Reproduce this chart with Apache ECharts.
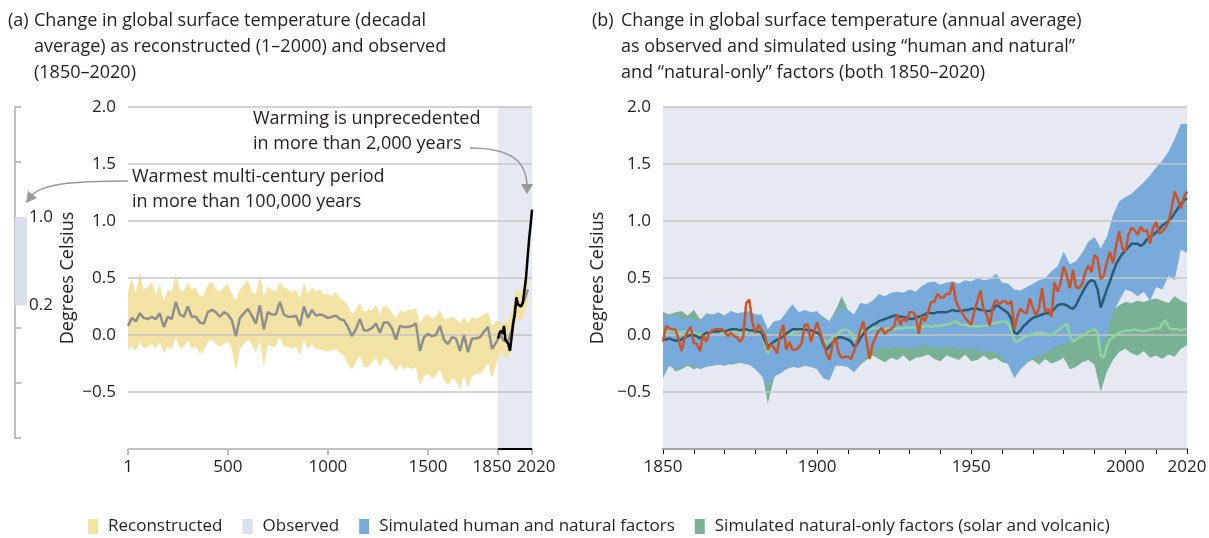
<!DOCTYPE html>
<html>
<head>
<meta charset="utf-8">
<script src="https://cdn.jsdelivr.net/npm/echarts@6/dist/echarts.min.js"></script>
<style>
  html, body { margin: 0; padding: 0; background: #fff; }
  #main { width: 1209px; height: 538px; }
</style>
</head>
<body>
<div id="main"></div>
<script>
// (a) reconstructed decadal temperature, sampled every 20 years from year 1 to 2000
const recYears = [1]
for (let y = 20; y <= 2000; y += 20) recYears.push(y)
const recMean = [
  0.08, 0.15, 0.12, 0.19, 0.15, 0.14, 0.16, 0.14, 0.19, 0.07,
  0.16, 0.14, 0.29, 0.18, 0.16, 0.25, 0.16, 0.16, 0.11, 0.10,
  0.20, 0.22, 0.20, 0.16, 0.20, 0.18, 0.13, -0.01, 0.15, 0.19,
  0.23, 0.17, 0.10, 0.26, 0.05, 0.20, 0.18, 0.18, 0.29, 0.18,
  0.16, 0.16, 0.17, 0.08, 0.25, 0.15, 0.22, 0.17, 0.18, 0.17,
  0.15, 0.16, 0.17, 0.14, 0.13, 0.07, -0.01, 0.05, 0.14, 0.04,
  0.04, 0.06, 0.10, 0.02, 0.11, 0.11, 0.06, -0.04, 0.08, 0.07,
  0.07, 0.08, 0.10, -0.14, -0.02, 0.01, -0.01, 0.00, 0.08, -0.04,
  -0.08, -0.02, -0.03, -0.14, 0.00, -0.15, -0.03, -0.03, -0.02, 0.03,
  0.07, -0.12, -0.07, 0.00, -0.05, -0.06, 0.05, 0.28, 0.25, 0.30,
  0.40
]
const recUpper = [
  0.38, 0.50, 0.36, 0.55, 0.40, 0.42, 0.46, 0.35, 0.44, 0.30,
  0.40, 0.38, 0.54, 0.40, 0.38, 0.46, 0.40, 0.42, 0.34, 0.35,
  0.44, 0.47, 0.40, 0.38, 0.42, 0.45, 0.36, 0.30, 0.40, 0.44,
  0.48, 0.38, 0.36, 0.52, 0.34, 0.42, 0.40, 0.38, 0.46, 0.42,
  0.40, 0.38, 0.40, 0.32, 0.46, 0.36, 0.42, 0.38, 0.40, 0.35,
  0.36, 0.34, 0.38, 0.32, 0.30, 0.26, 0.18, 0.22, 0.28, 0.20,
  0.22, 0.22, 0.26, 0.18, 0.26, 0.24, 0.20, 0.14, 0.22, 0.20,
  0.22, 0.22, 0.24, 0.10, 0.16, 0.18, 0.14, 0.16, 0.22, 0.14,
  0.14, 0.16, 0.14, 0.10, 0.16, 0.10, 0.16, 0.14, 0.16, 0.18,
  0.20, 0.08, 0.12, 0.12, 0.10, 0.12, 0.22, 0.40, 0.38, 0.42,
  0.52
]
const recLower = [
  -0.12, -0.10, -0.14, -0.06, -0.12, -0.10, -0.08, -0.12, -0.06, -0.16,
  -0.10, -0.12, -0.02, -0.12, -0.10, -0.05, -0.12, -0.10, -0.16, -0.14,
  -0.06, -0.04, -0.08, -0.10, -0.08, -0.06, -0.12, -0.32, -0.12, -0.08,
  -0.04, -0.08, -0.16, -0.04, -0.28, -0.08, -0.10, -0.10, -0.02, -0.10,
  -0.10, -0.12, -0.10, -0.18, -0.04, -0.12, -0.08, -0.12, -0.12, -0.14,
  -0.14, -0.14, -0.12, -0.16, -0.18, -0.26, -0.30, -0.24, -0.18, -0.28,
  -0.28, -0.24, -0.20, -0.28, -0.20, -0.22, -0.26, -0.32, -0.26, -0.30,
  -0.28, -0.30, -0.28, -0.44, -0.36, -0.34, -0.38, -0.36, -0.30, -0.40,
  -0.44, -0.38, -0.40, -0.48, -0.36, -0.46, -0.36, -0.34, -0.34, -0.30,
  -0.24, -0.38, -0.26, -0.16, -0.18, -0.20, -0.10, 0.14, 0.12, 0.18,
  0.30
]
// (a) observed, smoothed
const obsDecadalYears = [1850, 1858, 1866, 1874, 1880, 1887, 1894, 1902, 1910, 1918, 1926, 1934,
  1942, 1950, 1958, 1966, 1974, 1982, 1990, 1998, 2006, 2014, 2020]
const obsDecadal = [-0.03, 0.02, 0.04, 0.01, 0.08, -0.04, -0.03, -0.08, -0.14, -0.02, 0.10, 0.18,
  0.33, 0.27, 0.28, 0.25, 0.28, 0.39, 0.50, 0.68, 0.85, 0.98, 1.10]

// (b) annual values 1850-2020
const annualYears = []
for (let y = 1850; y <= 2020; y++) annualYears.push(y)
const obsAnnual = [
  -0.06, 0.08, 0.06, 0.05, 0.05, -0.03, -0.14, -0.03, 0.03, 0.07,
  -0.07, -0.08, -0.14, 0.00, -0.06, 0.02, 0.04, 0.05, 0.05, 0.05,
  0.03, -0.01, 0.02, -0.01, -0.02, -0.06, -0.02, 0.28, 0.31, 0.11,
  0.02, 0.09, 0.04, 0.00, -0.13, -0.08, -0.11, -0.16, 0.00, 0.09,
  -0.13, -0.06, -0.13, -0.13, -0.11, -0.07, 0.09, 0.09, -0.06, 0.03,
  0.11, 0.02, -0.06, -0.16, -0.22, -0.08, -0.02, -0.16, -0.20, -0.19,
  -0.19, -0.21, -0.14, -0.06, 0.04, 0.12, -0.05, -0.21, -0.08, -0.02,
  0.04, 0.06, 0.01, 0.04, 0.05, 0.08, 0.18, 0.09, 0.15, 0.12,
  0.20, 0.20, 0.17, 0.01, 0.17, 0.12, 0.20, 0.29, 0.29, 0.36,
  0.33, 0.33, 0.36, 0.36, 0.46, 0.30, 0.24, 0.20, 0.15, 0.12,
  0.09, 0.21, 0.30, 0.39, 0.22, 0.18, 0.08, 0.25, 0.31, 0.27,
  0.29, 0.30, 0.27, 0.30, 0.05, 0.17, 0.23, 0.20, 0.19, 0.32,
  0.24, 0.17, 0.24, 0.41, 0.20, 0.23, 0.16, 0.46, 0.38, 0.46,
  0.60, 0.52, 0.41, 0.57, 0.42, 0.41, 0.45, 0.55, 0.61, 0.55,
  0.70, 0.67, 0.49, 0.52, 0.64, 0.73, 0.63, 0.78, 0.91, 0.76,
  0.73, 0.88, 0.94, 0.92, 0.88, 0.95, 0.91, 0.92, 0.80, 0.94,
  0.99, 0.89, 0.91, 0.94, 0.99, 1.11, 1.26, 1.19, 1.11, 1.21,
  1.26
]
const simHumanMean = [
  -0.04, -0.04, -0.03, -0.04, -0.05, -0.05, -0.04, -0.02, -0.01, 0.00,
  0.00, -0.01, -0.03, 0.00, 0.02, 0.02, 0.03, 0.03, 0.03, 0.04,
  0.03, 0.04, 0.05, 0.05, 0.05, 0.04, 0.05, 0.05, 0.04, 0.04,
  0.03, 0.03, 0.02, -0.05, -0.10, -0.08, -0.06, -0.04, -0.03, -0.01,
  0.01, 0.03, 0.05, 0.05, 0.05, 0.05, 0.05, 0.04, 0.04, 0.03,
  0.02, 0.00, -0.08, -0.13, -0.10, -0.07, -0.04, -0.02, -0.02, -0.03,
  -0.04, -0.06, -0.10, -0.08, -0.03, 0.01, 0.05, 0.07, 0.09, 0.10,
  0.12, 0.13, 0.14, 0.15, 0.16, 0.17, 0.17, 0.16, 0.16, 0.15,
  0.14, 0.14, 0.15, 0.16, 0.17, 0.18, 0.20, 0.19, 0.19, 0.20,
  0.20, 0.20, 0.20, 0.21, 0.22, 0.21, 0.21, 0.21, 0.22, 0.22,
  0.23, 0.23, 0.23, 0.22, 0.22, 0.21, 0.21, 0.22, 0.26, 0.25,
  0.23, 0.21, 0.19, 0.14, 0.02, 0.01, 0.04, 0.08, 0.10, 0.13,
  0.15, 0.16, 0.17, 0.18, 0.19, 0.19, 0.20, 0.23, 0.26, 0.27,
  0.27, 0.26, 0.24, 0.23, 0.26, 0.32, 0.37, 0.42, 0.46, 0.48,
  0.47, 0.40, 0.24, 0.32, 0.40, 0.47, 0.55, 0.62, 0.67, 0.71,
  0.74, 0.77, 0.80, 0.80, 0.80, 0.78, 0.80, 0.84, 0.86, 0.88,
  0.90, 0.93, 0.96, 0.98, 1.00, 1.03, 1.07, 1.11, 1.15, 1.18,
  1.20
]
const simNaturalMean = [
  0.01, 0.02, 0.03, 0.03, 0.03, 0.02, 0.02, 0.03, 0.03, 0.02,
  0.02, 0.01, 0.00, 0.01, 0.02, 0.03, 0.03, 0.03, 0.03, 0.02,
  0.03, 0.02, 0.02, 0.03, 0.03, 0.02, 0.02, 0.03, 0.03, 0.02,
  0.03, 0.02, 0.01, -0.08, -0.16, -0.10, -0.06, -0.04, -0.02, -0.01,
  0.00, 0.01, 0.02, 0.03, 0.03, 0.04, 0.04, 0.04, 0.03, 0.03,
  0.03, 0.02, -0.03, -0.07, -0.05, -0.02, 0.00, 0.02, 0.04, 0.05,
  0.04, 0.02, -0.04, -0.02, 0.02, 0.04, 0.05, 0.05, 0.06, 0.06,
  0.06, 0.05, 0.05, 0.06, 0.05, 0.05, 0.06, 0.06, 0.06, 0.07,
  0.06, 0.07, 0.06, 0.07, 0.07, 0.08, 0.08, 0.07, 0.08, 0.08,
  0.08, 0.09, 0.09, 0.10, 0.11, 0.12, 0.10, 0.09, 0.09, 0.08,
  0.08, 0.08, 0.07, 0.08, 0.08, 0.08, 0.09, 0.10, 0.11, 0.11,
  0.12, 0.12, 0.10, 0.04, -0.05, -0.06, -0.04, -0.02, -0.01, 0.00,
  0.01, 0.02, 0.02, 0.02, 0.01, 0.00, 0.00, 0.02, 0.04, 0.06,
  0.08, 0.10, 0.00, -0.06, -0.04, -0.02, -0.01, 0.01, 0.03, 0.04,
  0.05, 0.02, -0.18, -0.20, -0.10, -0.04, -0.02, 0.00, 0.02, 0.03,
  0.04, 0.04, 0.04, 0.05, 0.04, 0.04, 0.03, 0.04, 0.05, 0.05,
  0.06, 0.05, 0.10, 0.13, 0.07, 0.05, 0.05, 0.05, 0.04, 0.05,
  0.05
]

// (b) model ranges, every 2 years 1850-2020
const bandYears = []
for (let y = 1850; y <= 2020; y += 2) bandYears.push(y)
const humanUpper = [
  0.18, 0.16, 0.18, 0.14, 0.15, 0.14, 0.12, 0.19, 0.18, 0.20,
  0.17, 0.21, 0.19, 0.20, 0.21, 0.18, 0.18, 0.05, 0.12, 0.13,
  0.20, 0.27, 0.20, 0.22, 0.20, 0.21, 0.14, 0.12, 0.20, 0.24,
  0.22, 0.18, 0.28, 0.27, 0.30, 0.36, 0.34, 0.37, 0.38, 0.37,
  0.40, 0.38, 0.43, 0.46, 0.47, 0.44, 0.46, 0.47, 0.45, 0.48,
  0.47, 0.50, 0.48, 0.49, 0.54, 0.46, 0.45, 0.40, 0.39, 0.42,
  0.45, 0.48, 0.50, 0.56, 0.60, 0.73, 0.62, 0.65, 0.72, 0.82,
  0.86, 0.76, 0.86, 1.05, 1.17, 1.21, 1.24, 1.29, 1.34, 1.40,
  1.47, 1.53, 1.61, 1.72, 1.85, 1.85
]
const humanLower = [
  -0.38, -0.27, -0.30, -0.28, -0.26, -0.27, -0.30, -0.28, -0.27, -0.26,
  -0.27, -0.25, -0.24, -0.25, -0.26, -0.30, -0.36, -0.46, -0.36, -0.34,
  -0.30, -0.28, -0.29, -0.27, -0.28, -0.30, -0.38, -0.40, -0.27, -0.27,
  -0.28, -0.33, -0.26, -0.18, -0.14, -0.12, -0.11, -0.12, -0.10, -0.11,
  -0.12, -0.10, -0.09, -0.10, -0.11, -0.12, -0.10, -0.11, -0.12, -0.13,
  -0.12, -0.13, -0.15, -0.14, -0.16, -0.20, -0.26, -0.38, -0.30, -0.25,
  -0.20, -0.18, -0.16, -0.13, -0.10, -0.08, -0.06, -0.02, 0.02, 0.05,
  0.04, -0.10, 0.02, 0.20, 0.30, 0.40, 0.38, 0.34, 0.38, 0.30,
  0.42, 0.40, 0.52, 0.48, 0.75, 0.72
]
const naturalUpper = [
  0.20, 0.18, 0.20, 0.21, 0.17, 0.22, 0.14, 0.16, 0.17, 0.18,
  0.16, 0.17, 0.16, 0.17, 0.16, 0.15, 0.14, 0.02, 0.10, 0.12,
  0.16, 0.18, 0.17, 0.18, 0.18, 0.20, 0.16, 0.12, 0.22, 0.34,
  0.22, 0.16, 0.20, 0.24, 0.22, 0.24, 0.25, 0.26, 0.25, 0.26,
  0.27, 0.26, 0.28, 0.27, 0.28, 0.27, 0.28, 0.30, 0.28, 0.27,
  0.28, 0.29, 0.28, 0.27, 0.29, 0.28, 0.26, 0.18, 0.20, 0.22,
  0.24, 0.23, 0.24, 0.22, 0.25, 0.27, 0.18, 0.22, 0.24, 0.26,
  0.26, 0.08, 0.16, 0.22, 0.26, 0.29, 0.28, 0.30, 0.29, 0.31,
  0.32, 0.30, 0.28, 0.34, 0.30, 0.28
]
const naturalLower = [
  -0.28, -0.25, -0.32, -0.30, -0.27, -0.30, -0.28, -0.26, -0.27, -0.25,
  -0.24, -0.26, -0.25, -0.24, -0.26, -0.27, -0.30, -0.60, -0.38, -0.30,
  -0.28, -0.26, -0.27, -0.25, -0.26, -0.27, -0.34, -0.36, -0.27, -0.26,
  -0.27, -0.30, -0.26, -0.22, -0.18, -0.21, -0.24, -0.20, -0.22, -0.18,
  -0.23, -0.20, -0.19, -0.17, -0.21, -0.23, -0.18, -0.20, -0.22, -0.17,
  -0.23, -0.22, -0.18, -0.22, -0.20, -0.24, -0.25, -0.30, -0.27, -0.24,
  -0.22, -0.26, -0.21, -0.25, -0.23, -0.20, -0.30, -0.28, -0.24, -0.22,
  -0.26, -0.50, -0.32, -0.22, -0.15, -0.12, -0.16, -0.18, -0.14, -0.20,
  -0.18, -0.21, -0.17, -0.19, -0.12, -0.09
]

// left scale: range of the warmest multi-century period
const paleoRange = [0.2, 1.0]

const tickA = [1, 500, 1000, 1500, 1850, 2020]
const tickB = [1850, 1900, 1950, 2000, 2020]
const tickBMinor = []
for (let y = 1850; y <= 2020; y += 10) tickBMinor.push(y)

const C = {
  text: '#231f20',
  grid: '#c6c6c6',
  recon: '#f2e2a3',
  reconLine: '#8e8e8e',
  observedBg: '#e6e9f2',
  human: '#78abdc',
  natural: '#78b194',
  humanLine: '#2b5a72',
  naturalLine: '#8ed49c',
  obs: '#c9552a'
}
const FONT = 'Open Sans'

function pairs(xs, ys) { return xs.map((x, i) => [x, ys[i]]) }
function fmt(v) {
  if (v === -1) return ''
  return (v < 0 ? '\u2212' : '') + Math.abs(v).toFixed(1)
}

// shaded range between lower and upper, drawn as one polygon through the axes
function band(name, xs, lo, hi, color, xi, yi, z) {
  return {
    name: name, type: 'custom', xAxisIndex: xi, yAxisIndex: yi, z: z, silent: true,
    itemStyle: { color: color },
    data: xs.map((x, i) => [x, lo[i], hi[i]]),
    encode: { x: 0, y: [1, 2] },
    renderItem: function (params, api) {
      if (params.dataIndex !== 0) return null
      let top = xs.map((x, i) => api.coord([x, hi[i]]))
      let bot = xs.map((x, i) => api.coord([x, lo[i]])).reverse()
      return { type: 'polygon', shape: { points: top.concat(bot) }, style: { fill: color } }
    }
  }
}

let chart = echarts.init(document.getElementById('main'))

const yBase = {
  type: 'value', min: -1, max: 2, interval: 0.5, z: 3,
  axisLine: { show: false, onZero: false }, axisTick: { show: false },
  axisLabel: { formatter: fmt, fontSize: 17, color: C.text, margin: 12, fontFamily: FONT },
  splitLine: { lineStyle: { color: C.grid, width: 1.5 } },
  name: 'Degrees Celsius', nameLocation: 'middle',
  nameTextStyle: { fontSize: 18, color: C.text, fontFamily: FONT }
}
const titleStyle = { fontSize: 18, fontWeight: 'normal', color: C.text, lineHeight: 26, fontFamily: FONT }

const option = {
  animation: false,
  textStyle: { fontFamily: FONT },
  title: [
    { text: '(a)', left: 8, top: 8, padding: 0, textStyle: titleStyle },
    { text: 'Change in global surface temperature (decadal\naverage) as reconstructed (1\u20132000) and observed\n(1850\u20132020)',
      left: 34, top: 8, padding: 0, textStyle: titleStyle },
    { text: '(b)', left: 592, top: 8, padding: 0, textStyle: titleStyle },
    { text: 'Change in global surface temperature (annual average)\nas observed and simulated using \u201chuman and natural\u201d\nand \u201cnatural-only\u201d factors (both 1850\u20132020)',
      left: 621, top: 8, padding: 0, textStyle: titleStyle }
  ],
  legend: {
    left: 88, top: 518, itemWidth: 10, itemHeight: 15, itemGap: 20, icon: 'rect', padding: 0,
    textStyle: { fontSize: 17, color: C.text, padding: [0, 0, 0, 5] },
    selectedMode: false,
    data: [
      { name: 'Reconstructed', itemStyle: { color: C.recon } },
      { name: 'Observed', itemStyle: { color: '#d9dfec' } },
      { name: 'Simulated human and natural factors', itemStyle: { color: C.human } },
      { name: 'Simulated natural-only factors (solar and volcanic)', itemStyle: { color: C.natural } }
    ]
  },
  grid: [
    { left: 128, width: 404, top: 107, height: 342, outerBoundsMode: 'none' },
    { left: 663, width: 524, top: 107, height: 342, show: true, backgroundColor: C.observedBg, borderWidth: 0, outerBoundsMode: 'none' },
    { left: 15, width: 12, top: 107, height: 331, outerBoundsMode: 'none' }
  ],
  xAxis: [
    {
      type: 'value', gridIndex: 0, min: 1, max: 2020, splitLine: { show: false },
      axisLine: { onZero: false, lineStyle: { color: '#a8a8a8', width: 1.5 } },
      axisTick: { customValues: tickA, length: 6, lineStyle: { color: '#a8a8a8', width: 1.5 } },
      axisLabel: {
        customValues: tickA, fontSize: 17, color: C.text, margin: 10, hideOverlap: false,
        formatter: v => v === 1850 ? '{l|1850}' : v === 2020 ? '{r|2020}' : String(v),
        rich: {
          l: { fontSize: 17, color: C.text, padding: [0, 12, 0, 0] },
          r: { fontSize: 17, color: C.text, padding: [0, 0, 0, 8] }
        }
      }
    },
    {
      type: 'value', gridIndex: 1, min: 1850, max: 2020, splitLine: { show: false },
      axisLine: { onZero: false, lineStyle: { color: '#111', width: 1.5 } },
      axisTick: { customValues: tickBMinor, length: 5, lineStyle: { color: '#111', width: 1 } },
      axisLabel: { customValues: tickB, formatter: v => String(v), fontSize: 17, color: C.text, margin: 10 }
    },
    { type: 'category', gridIndex: 2, data: ['range'], show: false }
  ],
  yAxis: [
    Object.assign({}, yBase, { gridIndex: 0, nameGap: 51 }),
    Object.assign({}, yBase, { gridIndex: 1, nameGap: 56 }),
    {
      type: 'value', gridIndex: 2, min: -1, max: 2, interval: 0.5, position: 'left',
      axisLine: { show: true, onZero: false, lineStyle: { color: '#ababab', width: 1.5 } },
      axisTick: { show: true, inside: true, length: 6, lineStyle: { color: '#ababab', width: 1.5 } },
      axisLabel: { show: false }, splitLine: { show: false }
    },
    {
      type: 'value', gridIndex: 2, min: -1, max: 2, position: 'right',
      axisLine: { show: false, onZero: false }, axisTick: { show: false }, splitLine: { show: false },
      axisLabel: { customValues: paleoRange, formatter: v => v.toFixed(1), fontSize: 17, color: C.text, margin: 2 }
    }
  ],
  graphic: [
    { type: 'text', left: 253, top: 106, z: 10,
      style: { text: 'Warming is unprecedented\nin more than 2,000 years', fontSize: 18, lineHeight: 25, fill: C.text, fontFamily: FONT } },
    { type: 'text', left: 132, top: 164, z: 10,
      style: { text: 'Warmest multi-century period\nin more than 100,000 years', fontSize: 18, lineHeight: 25, fill: C.text, fontFamily: FONT } },
    { type: 'bezierCurve', z: 10,
      shape: { x1: 128, y1: 181, cpx1: 70, cpy1: 181, cpx2: 42, cpy2: 184, x2: 31, y2: 196 },
      style: { stroke: '#999', lineWidth: 1.5, fill: null } },
    { type: 'polygon', z: 10, shape: { points: [[26, 203], [28, 191], [37, 198]] }, style: { fill: '#999' } },
    { type: 'bezierCurve', z: 10,
      shape: { x1: 470, y1: 148, cpx1: 512, cpy1: 148, cpx2: 526, cpy2: 162, x2: 527, y2: 185 },
      style: { stroke: '#999', lineWidth: 1.5, fill: null } },
    { type: 'polygon', z: 10, shape: { points: [[527, 194], [521, 184], [533, 184]] }, style: { fill: '#999' } }
  ],
  series: [
    // panel (a)
    {
      name: 'observed-period', type: 'line', xAxisIndex: 0, yAxisIndex: 0, data: [[1850, -1]],
      symbol: 'none', z: 0, silent: true,
      markArea: { silent: true, itemStyle: { color: C.observedBg }, data: [[{ xAxis: 1850 }, { xAxis: 2020 }]] }
    },
    band('Reconstructed', recYears, recLower, recUpper, C.recon, 0, 0, 1),
    {
      name: 'Reconstructed mean', type: 'line', xAxisIndex: 0, yAxisIndex: 0,
      data: pairs(recYears, recMean), symbol: 'none', lineStyle: { color: C.reconLine, width: 2.5 }, z: 4
    },
    {
      name: 'Observed', type: 'line', xAxisIndex: 0, yAxisIndex: 0,
      data: pairs(obsDecadalYears, obsDecadal), symbol: 'none', lineStyle: { color: '#000', width: 2.5 }, z: 5,
      markLine: {
        silent: true, symbol: 'none', label: { show: false }, lineStyle: { color: '#000', width: 2, type: 'solid' },
        data: [[{ coord: [1850, -1] }, { coord: [2020, -1] }]]
      }
    },
    // panel (b)
    band('Simulated natural-only factors (solar and volcanic)', bandYears, naturalLower, naturalUpper, C.natural, 1, 1, 1),
    band('Simulated human and natural factors', bandYears, humanLower, humanUpper, C.human, 1, 1, 2),
    {
      name: 'Natural-only mean', type: 'line', xAxisIndex: 1, yAxisIndex: 1,
      data: pairs(annualYears, simNaturalMean), symbol: 'none', lineStyle: { color: C.naturalLine, width: 2.5 }, z: 4
    },
    {
      name: 'Human and natural mean', type: 'line', xAxisIndex: 1, yAxisIndex: 1,
      data: pairs(annualYears, simHumanMean), symbol: 'none', lineStyle: { color: C.humanLine, width: 2.5 }, z: 5
    },
    {
      name: 'Observed annual', type: 'line', xAxisIndex: 1, yAxisIndex: 1,
      data: pairs(annualYears, obsAnnual), symbol: 'none', lineStyle: { color: C.obs, width: 2.5 }, z: 6
    },
    // left scale bar
    {
      name: 'range-base', type: 'bar', xAxisIndex: 2, yAxisIndex: 2, stack: 'range',
      data: [paleoRange[0]], barWidth: '100%', itemStyle: { color: 'rgba(0,0,0,0)' }, silent: true
    },
    {
      name: 'range', type: 'bar', xAxisIndex: 2, yAxisIndex: 2, stack: 'range',
      data: [+(paleoRange[1] - paleoRange[0]).toFixed(2)], barWidth: '100%', itemStyle: { color: '#d9dfec' }, silent: true, z: 1
    }
  ]
}

chart.setOption(option)
</script>
</body>
</html>
